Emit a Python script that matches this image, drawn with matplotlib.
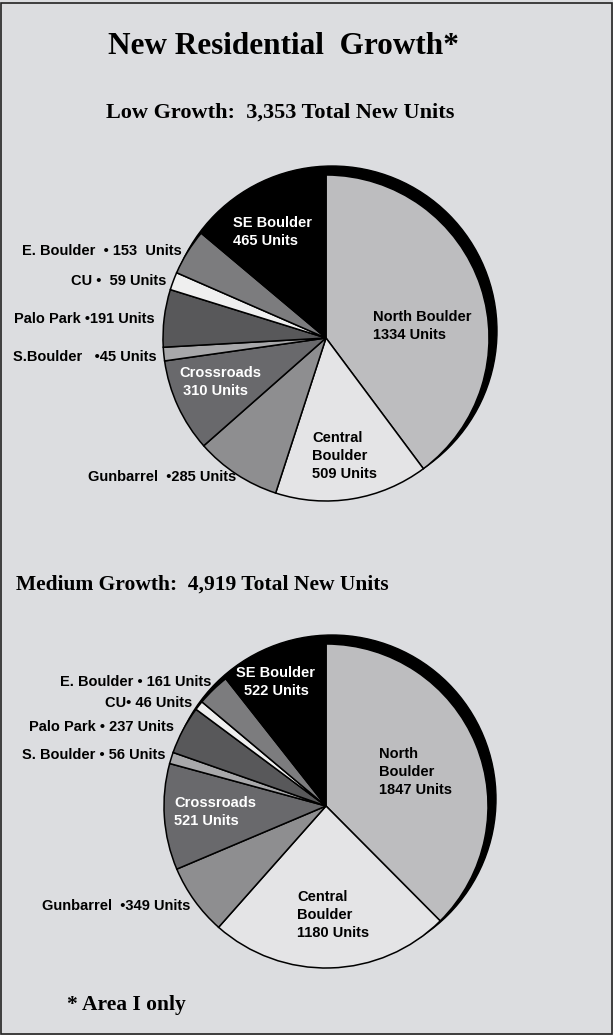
import matplotlib.pyplot as plt
from matplotlib.patches import Circle, Rectangle

W, H = 613, 1035

regions = ["North Boulder", "Central Boulder", "Gunbarrel", "Crossroads", "S.Boulder",
           "Palo Park", "CU", "E. Boulder", "SE Boulder"]
low_units = [1334, 509, 285, 310, 45, 191, 59, 153, 465]
med_units = [1847, 1180, 349, 521, 56, 237, 46, 161, 522]
colors = ["#bdbdbf", "#e4e4e6", "#8e8e90", "#69696c", "#a8a8aa",
          "#58585a", "#efefef", "#7c7c7e", "#000000"]

BG = "#dcdde0"
SANS = "Liberation Sans"
SERIF = "Liberation Serif"

fig = plt.figure(figsize=(W / 100, H / 100), dpi=100, facecolor=BG)
ax = fig.add_axes([0, 0, 1, 1])
ax.set_facecolor(BG)


def Y(y):
    # pixel row (from top) -> data y
    return H - y


def draw_pie(values, cx, cy, r):
    # black shadow disc behind, offset up/right
    ax.add_patch(Circle((cx + 6, Y(cy) + 7), r + 2, color="black", zorder=1))
    wedges, _ = ax.pie(values, colors=colors, center=(cx, Y(cy)), radius=r,
                       startangle=90, counterclock=False,
                       wedgeprops=dict(edgecolor="black", linewidth=1.1))
    for w in wedges:
        w.set_zorder(2)


def lbl(x, y, s, ha="right", color="black"):
    ax.text(x, Y(y), s, ha=ha, va="center", color=color, fontsize=10.5,
            fontweight="bold", family=SANS, linespacing=1.35, zorder=5)


draw_pie(low_units, 326, 338, 163)
draw_pie(med_units, 326, 806, 162)

# titles
ax.text(283, Y(47), "New Residential  Growth*", ha="center", va="center",
        fontsize=22.5, fontweight="bold", family=SERIF)
ax.text(280, Y(113), "Low Growth:  3,353 Total New Units", ha="center", va="center",
        fontsize=16, fontweight="bold", family=SERIF)
ax.text(202, Y(585), "Medium Growth:  4,919 Total New Units", ha="center", va="center",
        fontsize=15.5, fontweight="bold", family=SERIF)
ax.text(67, Y(1005), "* Area I only", ha="left", va="center",
        fontsize=15.5, fontweight="bold", family=SERIF)

# low growth labels
lbl(182, 251, f"E. Boulder  \u2022 {low_units[7]}  Units")
lbl(166, 281, f"CU \u2022  {low_units[6]} Units")
lbl(155, 319, f"Palo Park \u2022{low_units[5]} Units")
lbl(157, 357, f"S.Boulder   \u2022{low_units[4]} Units")
lbl(236, 477, f"Gunbarrel  \u2022{low_units[2]} Units")
lbl(233, 232, f"SE Boulder\n{low_units[8]} Units", ha="left", color="white")
lbl(179, 382, f"Crossroads\n {low_units[3]} Units", ha="left", color="white")
lbl(312, 456, f"Central\nBoulder\n{low_units[1]} Units", ha="left")
lbl(373, 326, f"North Boulder\n{low_units[0]} Units", ha="left")

# medium growth labels
lbl(211, 682, f"E. Boulder \u2022 {med_units[7]} Units")
lbl(192, 703, f"CU\u2022 {med_units[6]} Units")
lbl(174, 727, f"Palo Park \u2022 {med_units[5]} Units")
lbl(166, 755, f"S. Boulder \u2022 {med_units[4]} Units")
lbl(190, 906, f"Gunbarrel  \u2022{med_units[2]} Units")
ax.text(276, Y(682), f"SE Boulder\n{med_units[8]} Units", ha="center", va="center",
        color="white", fontsize=10.5, fontweight="bold", family=SANS,
        linespacing=1.35, zorder=5)
lbl(174, 812, f"Crossroads\n{med_units[3]} Units", ha="left", color="white")
lbl(297, 915, f"Central\nBoulder\n{med_units[1]} Units", ha="left")
lbl(379, 772, f"North\nBoulder\n{med_units[0]} Units", ha="left")

# frame around the page
ax.add_patch(Rectangle((1, 1), W - 2, H - 4, fill=False, edgecolor="#222222",
                       linewidth=1.2, zorder=6))

ax.set_xlim(0, W)
ax.set_ylim(0, H)
ax.set_aspect("auto")
ax.axis("off")

fig.savefig("out.png", dpi=100, facecolor=BG)
